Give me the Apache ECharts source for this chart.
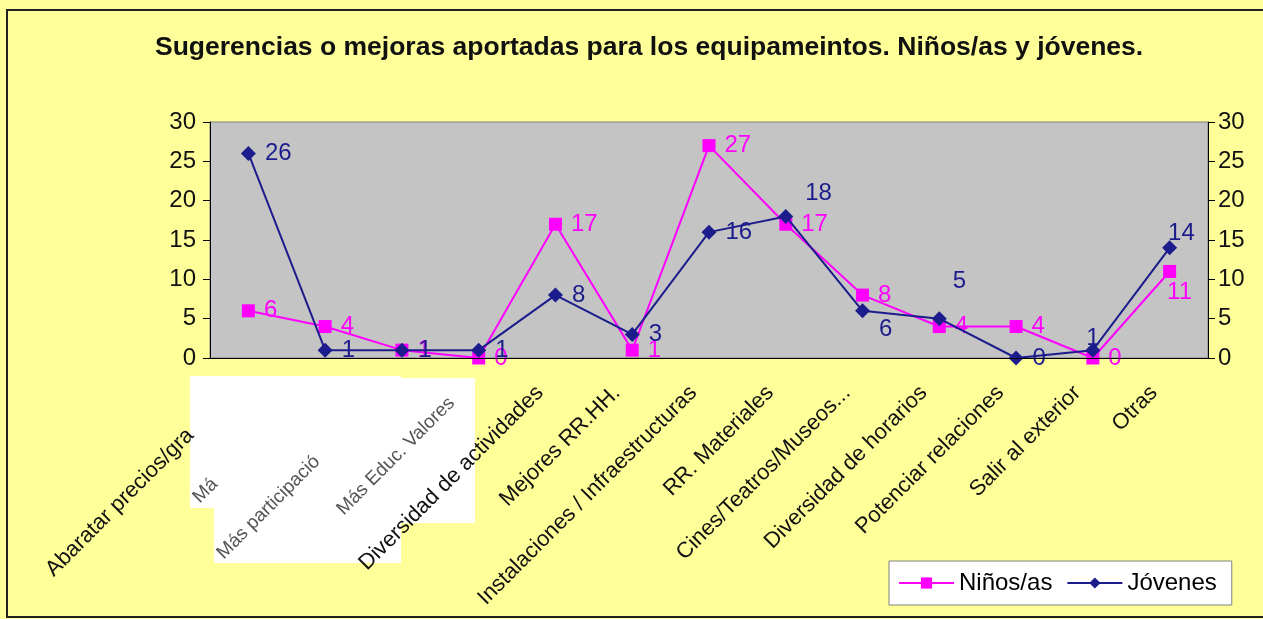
<!DOCTYPE html>
<html>
<head>
<meta charset="utf-8">
<title>Sugerencias o mejoras</title>
<script src="https://cdn.jsdelivr.net/npm/echarts@6/dist/echarts.min.js"></script>
<style>
  html, body { margin: 0; padding: 0; background: #ffff99; }
  #main { width: 1263px; height: 619px; }
</style>
</head>
<body>
<div id="main"></div>
<script>
// categorias (las 2-4 quedan tapadas en el original)
const categories = [
  'Abaratar precios/gratuidad',
  'Más información',
  'Más participación',
  'Más Educ. Valores',
  'Diversidad de actividades',
  'Mejores RR.HH.',
  'Instalaciones / Infraestructuras',
  'RR. Materiales',
  'Cines/Teatros/Museos...',
  'Diversidad de horarios',
  'Potenciar relaciones',
  'Salir al exterior',
  'Otras'
];
const ninos = [6, 4, 1, 0, 17, 1, 27, 17, 8, 4, 4, 0, 11];
const jovenes = [26, 1, 1, 1, 8, 3, 16, 18, 6, 5, 0, 1, 14];
const yTicks = [0, 5, 10, 15, 20, 25, 30];

const PINK = '#ff00ff';
const NAVY = '#1c1c8c';
const FONT = 'Liberation Sans, Arial, sans-serif';

// ajustes de etiquetas que en el original estan movidas a mano
const ninosLabelFix = { 12: { offset: [-18, 21] } };
const jovenesLabelFix = {
  7: { offset: [3, -23] },
  8: { offset: [0, 19] },
  9: { offset: [-3, -37] },
  11: { position: 'top', distance: 0, offset: [0, 8] },
  12: { offset: [-18, -14] }
};

function withLabels(values, fix) {
  return values.map((v, i) => fix[i] ? { value: v, label: fix[i] } : v);
}

// en la imagen original hay un recorte blanco encima de las primeras etiquetas
function catLabel(value, idx) {
  if (idx === 0) return '{v|' + value.slice(0, 20) + '}{h|' + value.slice(20) + '}';
  if (idx >= 1 && idx <= 3) return '{h|' + value + '}';
  return value;
}

function ghost(text, x, y) {
  return {
    type: 'text', z: 2, silent: true, x: x, y: y, rotation: Math.PI / 4,
    style: { text: text, fontSize: 19, fill: '#555', align: 'left', verticalAlign: 'middle', fontFamily: FONT }
  };
}

const chart = echarts.init(document.getElementById('main'));
const option = {
  backgroundColor: '#ffff99',
  textStyle: { fontFamily: FONT },
  title: {
    text: 'Sugerencias o mejoras aportadas para los equipameintos. Niños/as y jóvenes.',
    left: 150,
    top: 29,
    textStyle: { fontSize: 26.5, fontWeight: 'bold', color: '#111' }
  },
  legend: {
    left: 889,
    top: 561,
    padding: [10, 15, 10, 9],
    itemGap: 14,
    itemWidth: 55,
    itemHeight: 14,
    backgroundColor: '#ffffff',
    borderColor: '#808080',
    borderWidth: 1,
    borderRadius: 0,
    textStyle: { fontSize: 24, color: '#000' },
    data: ['Niños/as', 'Jóvenes']
  },
  grid: {
    left: 210, right: 55, top: 122, bottom: 261,
    show: true,
    backgroundColor: '#c4c4c4',
    borderColor: '#808080',
    borderWidth: 1
  },
  xAxis: {
    type: 'category',
    data: categories,
    boundaryGap: true,
    z: 5,
    axisLine: { lineStyle: { color: '#000', width: 1 } },
    axisTick: { length: 7, lineStyle: { color: '#000' } },
    axisLabel: {
      rotate: 45, fontSize: 22, color: '#111', margin: 16, interval: 0,
      padding: [0, 22, 0, 0],
      formatter: catLabel,
      rich: {
        v: { fontSize: 22, color: '#111' },
        h: { fontSize: 22, color: 'rgba(0,0,0,0)' }
      }
    }
  },
  yAxis: [0, 1].map(i => ({
    type: 'value',
    min: yTicks[0],
    max: yTicks[yTicks.length - 1],
    interval: 5,
    position: i === 0 ? 'left' : 'right',
    splitLine: { show: false },
    axisLine: { show: true, lineStyle: { color: '#000' } },
    axisTick: { show: true, length: 7, lineStyle: { color: '#000' } },
    axisLabel: { fontSize: 24, color: '#111', margin: i === 0 ? 14 : 10 }
  })),
  series: [
    {
      name: 'Niños/as',
      type: 'line',
      data: withLabels(ninos, ninosLabelFix),
      symbol: 'rect',
      symbolSize: 13,
      color: PINK,
      lineStyle: { color: PINK, width: 2 },
      itemStyle: { color: PINK },
      label: { show: true, position: 'right', distance: 9, fontSize: 24, color: PINK },
      z: 3
    },
    {
      name: 'Jóvenes',
      type: 'line',
      data: withLabels(jovenes, jovenesLabelFix),
      symbol: 'diamond',
      symbolSize: 15,
      color: NAVY,
      lineStyle: { color: NAVY, width: 2 },
      itemStyle: { color: NAVY },
      label: { show: true, position: 'right', distance: 9, fontSize: 24, color: NAVY },
      z: 4
    }
  ],
  graphic: [
    // marco exterior del grafico
    { type: 'rect', z: 0, silent: true,
      shape: { x: 7, y: 10, width: 1300, height: 607 },
      style: { fill: 'none', stroke: '#222', lineWidth: 2 } },
    // recortes blancos de la imagen original
    { type: 'rect', z: 1, silent: true,
      shape: { x: 190, y: 376, width: 211, height: 132 }, style: { fill: '#fff' } },
    { type: 'rect', z: 1, silent: true,
      shape: { x: 214, y: 376, width: 187, height: 187 }, style: { fill: '#fff' } },
    { type: 'rect', z: 1, silent: true,
      shape: { x: 401, y: 378, width: 74, height: 145 }, style: { fill: '#fff' } },
    ghost('Má', 196, 500),
    ghost('Más participació', 220, 556),
    ghost('Más Educ. Valores', 340, 512)
  ]
};
chart.setOption(option);
</script>
</body>
</html>
